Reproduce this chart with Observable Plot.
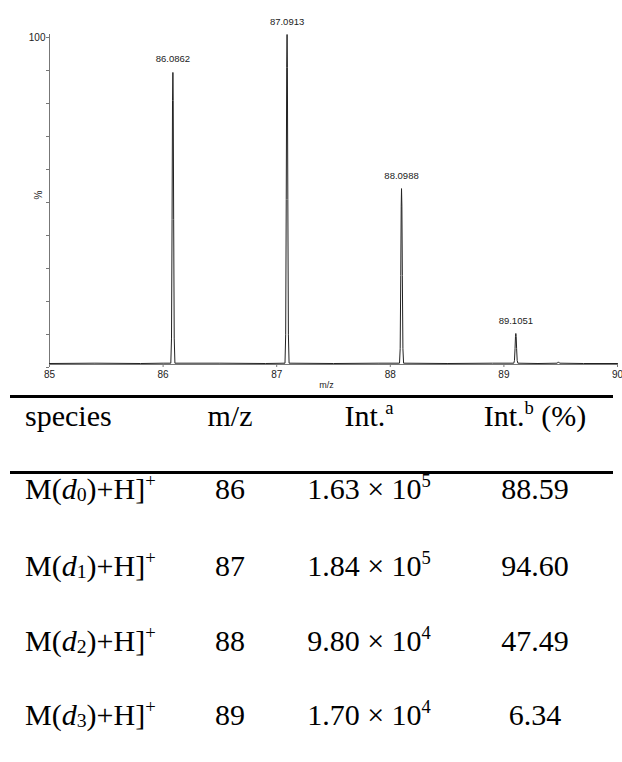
<!DOCTYPE html>
<html><head><meta charset="utf-8">
<script src="https://cdn.jsdelivr.net/npm/d3@7"></script>
<script src="https://cdn.jsdelivr.net/npm/@observablehq/plot@0.6"></script>
<style>
body{margin:0;background:#fff;}
#wrap{position:relative;width:622px;height:762px;overflow:hidden;background:#fff}
#chart{position:absolute;left:0;top:0}
.rule{position:absolute;left:10px;width:603px;background:#000}
.cell{position:absolute;white-space:nowrap;line-height:30px;font-family:"Liberation Serif","Times New Roman",serif;font-size:30px;color:#000}
.c{transform:translateX(-50%)}
.sup{position:relative;font-size:0.62em;top:-0.62em;line-height:1}
.sub{position:relative;font-size:0.66em;top:0.12em;line-height:1}
.it{font-style:italic}
</style></head>
<body><div id="wrap"><div id="chart"></div><div id="table"></div></div>
<script>
// ---- spectrum data ----
const peakMz = [86.0862, 87.0913, 88.0988, 89.1051];
const peakLabels = ["86.0862", "87.0913", "88.0988", "89.1051"];
const peakHeights = [88.5, 100, 53.3, 9.4];

const specMz = [85.00, 85.40, 85.80, 86.00, 86.068, 86.074, 86.079, 86.083, 86.0862, 86.089, 86.093, 86.098, 86.104,
  86.50, 86.90, 87.073, 87.079, 87.084, 87.088, 87.0913, 87.094, 87.098, 87.103, 87.109,
  87.50, 87.90, 88.081, 88.087, 88.092, 88.096, 88.0988, 88.102, 88.106, 88.111, 88.117,
  88.50, 88.90, 89.087, 89.093, 89.098, 89.102, 89.1051, 89.108, 89.112, 89.117, 89.123,
  89.30, 89.47, 89.48, 89.49, 89.70, 90.00];
const specInt = [0.3, 0.4, 0.3, 0.4, 0.4, 8, 44, 80, 88.5, 80, 44, 8, 0.4,
  0.4, 0.3, 0.4, 9, 50, 90, 100, 90, 50, 9, 0.4,
  0.3, 0.4, 0.4, 4.8, 27, 48, 53.3, 48, 27, 4.8, 0.4,
  0.3, 0.4, 0.4, 1.2, 4.8, 8.5, 9.4, 8.5, 4.8, 1.2, 0.4,
  0.3, 0.4, 0.8, 0.4, 0.3, 0.3];

const xTicks = [85, 86, 87, 88, 89, 90];
const yTicks = [0, 10, 20, 30, 40, 50, 60, 70, 80, 90, 100];

// ---- table data ----
const colHeaders = ["species", "m/z", "Int.", "Int."];
const headerSup = ["", "", "a", "b"];
const speciesIndex = ["0", "1", "2", "3"];
const mzNominal = ["86", "87", "88", "89"];
const intMantissa = ["1.63", "1.84", "9.80", "1.70"];
const intExponent = ["5", "5", "4", "4"];
const intPercent = ["88.59", "94.60", "47.49", "6.34"];

const spectrum = specMz.map((m, i) => ({mz: m, int: specInt[i]}));
const peaks = peakMz.map((m, i) => ({mz: m, int: peakHeights[i], label: peakLabels[i]}));

const chart = Plot.plot({
  width: 622,
  height: 394,
  marginLeft: 49,
  marginRight: 5,
  marginTop: 34,
  marginBottom: 30,
  style: {fontFamily: "'Liberation Sans', Arial, sans-serif", fontSize: "10px", color: "#222", background: "#fff"},
  x: {domain: [85, 90]},
  y: {domain: [0, 100]},
  marks: [
    Plot.ruleX([85], {stroke: "#777", strokeWidth: 1}),
    Plot.ruleY([0], {stroke: "#777", strokeWidth: 1}),
    Plot.axisY({ticks: yTicks, tickSize: 3, tickPadding: 1, stroke: "#777", tickFormat: d => d === 100 ? "100" : "", label: null, dy: 3, fill: "#222"}),
    Plot.axisX({ticks: xTicks, tickSize: 3, tickPadding: 3, stroke: "#777", tickFormat: d => String(d), label: null, fill: "#222"}),
    Plot.text(["%"], {frameAnchor: "left", dx: -11, rotate: -90, fontSize: 10, fill: "#222"}),
    Plot.text(["m/z"], {frameAnchor: "bottom", dx: -7, dy: 23, fontSize: 9, fill: "#222"}),
    Plot.line(spectrum, {x: "mz", y: "int", stroke: "#222", strokeWidth: 1, curve: "linear"}),
    Plot.text(peaks, {x: "mz", y: "int", text: "label", dy: -13, fontSize: 9.5, fill: "#222"})
  ]
});
document.getElementById("chart").appendChild(chart);

// ---- table ----
const table = document.getElementById("table");
function rule(top, h) {
  const d = document.createElement("div");
  d.className = "rule"; d.style.top = top + "px"; d.style.height = h + "px";
  table.appendChild(d);
}
function cell(html, x, baseline, centered) {
  const d = document.createElement("div");
  d.className = "cell" + (centered ? " c" : "");
  d.style.left = x + "px";
  d.style.top = (baseline - 25) + "px";
  d.innerHTML = html;
  table.appendChild(d);
}
rule(394.5, 3);
rule(471, 2.5);
const colX = [25, 230, 369, 535];
const headerBase = 426;
colHeaders.forEach((h, i) => {
  let html = h + (headerSup[i] ? `<span class="sup">${headerSup[i]}</span>` : "");
  if (i === 3) html += " (%)";
  cell(html, colX[i], headerBase, i > 0);
});
const rowBase = [499, 576, 651, 725];
speciesIndex.forEach((s, i) => {
  cell(`M(<span class="it">d</span><span class="sub">${s}</span>)+H]<span class="sup">+</span>`, colX[0], rowBase[i], false);
  cell(mzNominal[i], colX[1], rowBase[i], true);
  cell(`${intMantissa[i]} × 10<span class="sup">${intExponent[i]}</span>`, colX[2], rowBase[i], true);
  cell(intPercent[i], colX[3], rowBase[i], true);
});
</script>
</body></html>
